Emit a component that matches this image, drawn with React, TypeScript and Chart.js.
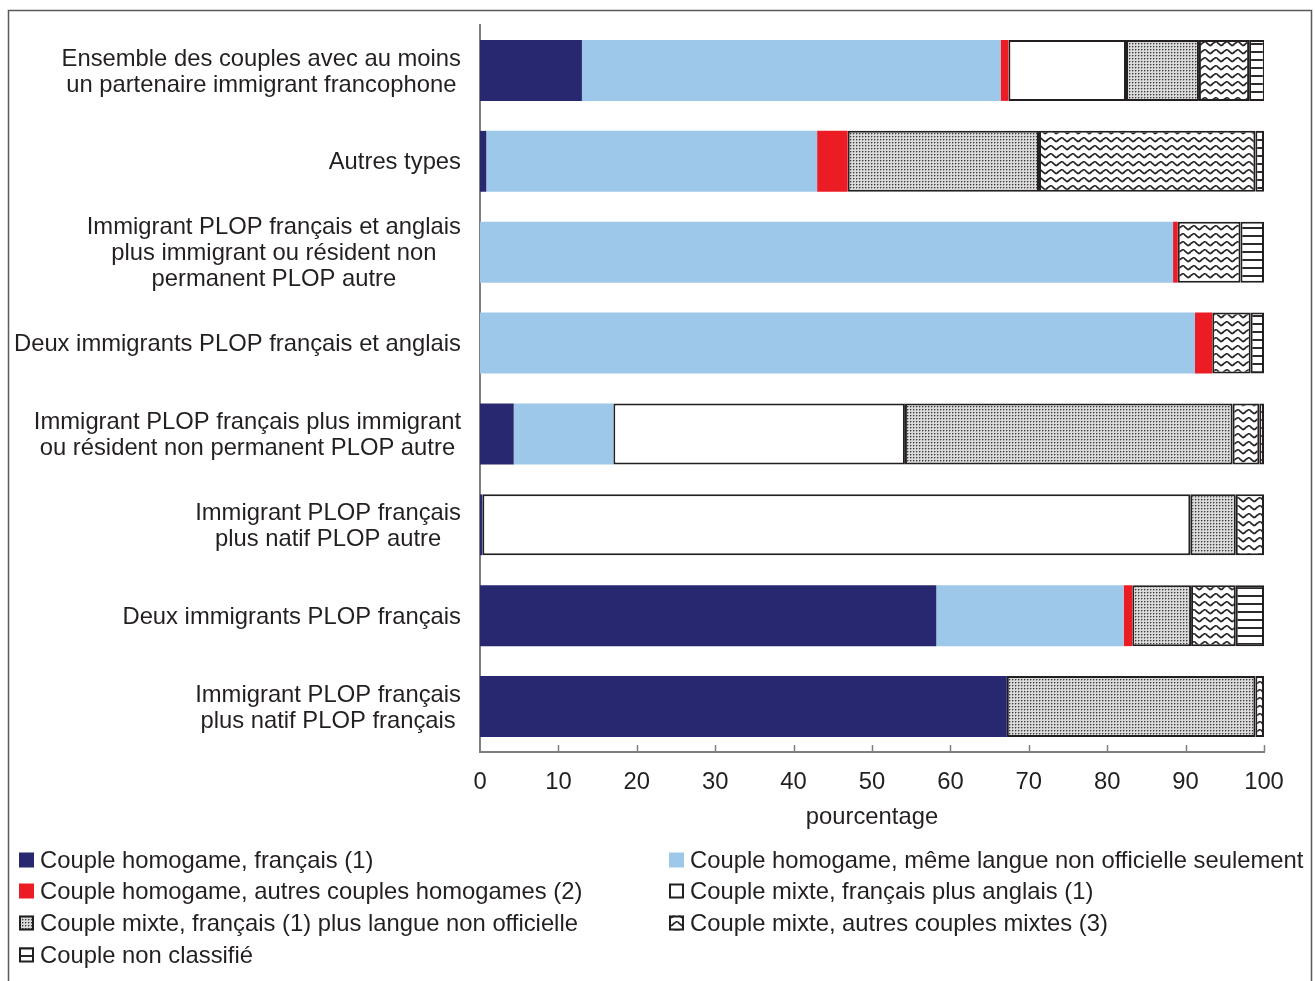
import React, { useEffect, useRef } from 'react';
import { Chart, registerables } from 'chart.js';

Chart.register(...registerables);

const categories: (string | string[])[] = [
  ['Ensemble des couples avec au moins', 'un partenaire immigrant francophone'],
  'Autres types',
  ['Immigrant PLOP français et anglais', 'plus immigrant ou résident non', 'permanent PLOP autre'],
  'Deux immigrants PLOP français et anglais',
  ['Immigrant PLOP français plus immigrant', 'ou résident non permanent PLOP autre'],
  ['Immigrant PLOP français', 'plus natif PLOP autre'],
  'Deux immigrants PLOP français',
  ['Immigrant PLOP français', 'plus natif PLOP français'],
];

const seriesLabels = [
  'Couple homogame, français (1)',
  'Couple homogame, même langue non officielle seulement',
  'Couple homogame, autres couples homogames (2)',
  'Couple mixte, français plus anglais (1)',
  'Couple mixte, français (1) plus langue non officielle',
  'Couple mixte, autres couples mixtes (3)',
  'Couple non classifié',
];

const homogameFrancais = [13.0, 0.8, 0, 0, 4.3, 0.3, 58.2, 67.2];
const homogameNonOfficielle = [53.4, 42.2, 88.4, 91.2, 12.7, 0, 23.9, 0];
const homogameAutres = [1.0, 3.9, 0.6, 2.2, 0, 0, 1.1, 0];
const mixteFrancaisAnglais = [15.0, 0, 0, 0, 37.2, 90.3, 0, 0];
const mixteFrancaisNonOfficielle = [9.3, 24.4, 0, 0, 41.8, 5.8, 7.5, 31.7];
const mixteAutres = [6.4, 27.6, 8.0, 4.9, 3.4, 3.6, 5.7, 1.1];
const nonClassifie = [2.0, 1.1, 3.0, 1.7, 0.6, 0, 3.6, 0];

const xTickValues = [0, 10, 20, 30, 40, 50, 60, 70, 80, 90, 100];
const xTitle = 'pourcentage';

const FONT = '"Liberation Sans", Arial, Helvetica, sans-serif';
const FS = 23.8;
const INK = '#231f20';
const AXIS = '#7f7f7f';

function makePattern(
  ctx: CanvasRenderingContext2D,
  w: number,
  h: number,
  draw: (g: CanvasRenderingContext2D) => void
): CanvasPattern {
  const c = document.createElement('canvas');
  c.width = w;
  c.height = h;
  const g = c.getContext('2d')!;
  draw(g);
  return ctx.createPattern(c, 'repeat')!;
}

export default function App() {
  const ref = useRef<HTMLCanvasElement>(null);

  useEffect(() => {
    const canvas = ref.current!;
    const ctx = canvas.getContext('2d')!;

    const dots = makePattern(ctx, 3, 3, (g) => {
      g.fillStyle = '#dadada';
      g.fillRect(0, 0, 3, 3);
      g.fillStyle = '#3a3a3a';
      g.fillRect(1, 1, 1, 1);
      g.fillStyle = '#9a9a9a';
      g.fillRect(2, 1, 1, 1);
      g.fillRect(1, 2, 1, 1);
    });
    const waves = makePattern(ctx, 11, 8, (g) => {
      g.fillStyle = '#ffffff';
      g.fillRect(0, 0, 11, 8);
      g.strokeStyle = '#262626';
      g.lineWidth = 1.7;
      g.beginPath();
      g.moveTo(-1, 5.6);
      g.quadraticCurveTo(1.5, 5.8, 2.75, 3.5);
      g.lineTo(5.5, 1.8);
      g.quadraticCurveTo(7, 1.4, 8.25, 3.5);
      g.lineTo(11, 5.6);
      g.lineTo(12, 5.6);
      g.stroke();
    });
    const hlines = makePattern(ctx, 4, 8, (g) => {
      g.fillStyle = '#ffffff';
      g.fillRect(0, 0, 4, 8);
      g.fillStyle = '#2a2a2a';
      g.fillRect(0, 3, 4, 2);
    });

    const seriesData = [
      homogameFrancais,
      homogameNonOfficielle,
      homogameAutres,
      mixteFrancaisAnglais,
      mixteFrancaisNonOfficielle,
      mixteAutres,
      nonClassifie,
    ];
    const fills: (string | CanvasPattern)[] = ['#27286f', '#9dc8e9', '#ec1c24', '#ffffff', dots, waves, hlines];
    const bordered = [false, false, false, true, true, true, true];

    const framePlugin = {
      id: 'frame',
      beforeDraw(chart: any) {
        const c = chart.ctx;
        c.save();
        c.strokeStyle = '#5a5a5a';
        c.lineWidth = 1.5;
        c.beginPath();
        c.moveTo(8.5, chart.height);
        c.lineTo(8.5, 10.5);
        c.lineTo(1311.5, 10.5);
        c.lineTo(1311.5, chart.height);
        c.stroke();
        c.restore();
      },
    };

    const decorPlugin = {
      id: 'decor',
      afterDraw(chart: any) {
        const c = chart.ctx;
        const xs = chart.scales.x;
        const ys = chart.scales.y;
        c.save();
        // inward tick marks on x axis
        c.strokeStyle = AXIS;
        c.lineWidth = 1.5;
        xs.ticks.forEach((t: any) => {
          if (t.value === 0) return;
          const px = Math.round(xs.getPixelForValue(t.value)) + 0.5;
          c.beginPath();
          c.moveTo(px, xs.top);
          c.lineTo(px, xs.top - 7);
          c.stroke();
        });
        // category labels: block right-aligned, lines centred
        c.font = `${FS}px ${FONT}`;
        c.fillStyle = INK;
        c.textAlign = 'center';
        c.textBaseline = 'middle';
        categories.forEach((lab, i) => {
          const lines = Array.isArray(lab) ? lab : [lab];
          const cy = ys.getPixelForValue(i) + 1.5;
          const maxW = Math.max(...lines.map((l) => c.measureText(l).width));
          const cx = ys.right - 19 - maxW / 2;
          lines.forEach((l, j) => {
            c.fillText(l, cx, cy + (j - (lines.length - 1) / 2) * 26);
          });
        });
        // legend in two columns
        const cols = [19, 669];
        const rows = [860, 891, 923, 955];
        const box = 15;
        chart.data.datasets.forEach((ds: any, i: number) => {
          const x = cols[i % 2];
          const y = rows[Math.floor(i / 2)];
          c.fillStyle = ds.backgroundColor;
          c.fillRect(x, y - box / 2, box, box);
          if (ds.borderWidth) {
            c.strokeStyle = INK;
            c.lineWidth = 2;
            c.strokeRect(x + 1, y - box / 2 + 1, box - 2, box - 2);
          }
          c.fillStyle = INK;
          c.textAlign = 'left';
          c.textBaseline = 'middle';
          c.fillText(ds.label, x + 21, y + 1);
        });
        c.restore();
      },
    };

    const chart = new Chart(ctx, {
      type: 'bar',
      data: {
        labels: categories as any,
        datasets: seriesData.map((d, i) => ({
          label: seriesLabels[i],
          data: d,
          backgroundColor: fills[i] as any,
          borderColor: INK,
          borderWidth: bordered[i] ? 2 : 0,
          borderSkipped: false,
          barPercentage: 0.67,
          categoryPercentage: 1,
        })),
      },
      options: {
        indexAxis: 'y',
        responsive: false,
        animation: false,
        layout: { padding: { top: 25, right: 51, bottom: 149, left: 0 } },
        font: { family: FONT },
        plugins: {
          legend: { display: false },
          tooltip: { enabled: false },
          title: { display: false },
        },
        scales: {
          x: {
            stacked: true,
            min: 0,
            max: 100,
            grid: { display: false, drawTicks: false },
            border: { display: true, color: AXIS, width: 2 },
            ticks: { padding: 16, color: INK, font: { size: FS, family: FONT, lineHeight: 1.2 } },
            title: {
              display: true,
              text: xTitle,
              color: INK,
              font: { size: FS, family: FONT, lineHeight: 1.2 },
              padding: { top: 0, bottom: 0 },
            },
            afterBuildTicks: (s: any) => {
              s.ticks = xTickValues.map((v) => ({ value: v }));
            },
            afterFit: (s: any) => {
              s.height = 80;
            },
          },
          y: {
            stacked: true,
            grid: { display: false, drawTicks: false },
            border: { display: true, color: AXIS, width: 2 },
            ticks: { display: false },
            afterFit: (s: any) => {
              s.width = 480;
            },
          },
        },
      } as any,
      plugins: [framePlugin, decorPlugin],
    });

    return () => chart.destroy();
  }, []);

  return (
    <div style={{ position: 'fixed', left: 0, top: 0, width: 1315, height: 981, background: '#ffffff' }}>
      <canvas ref={ref} width={1315} height={981} style={{ display: 'block', width: 1315, height: 981 }} />
    </div>
  );
}
